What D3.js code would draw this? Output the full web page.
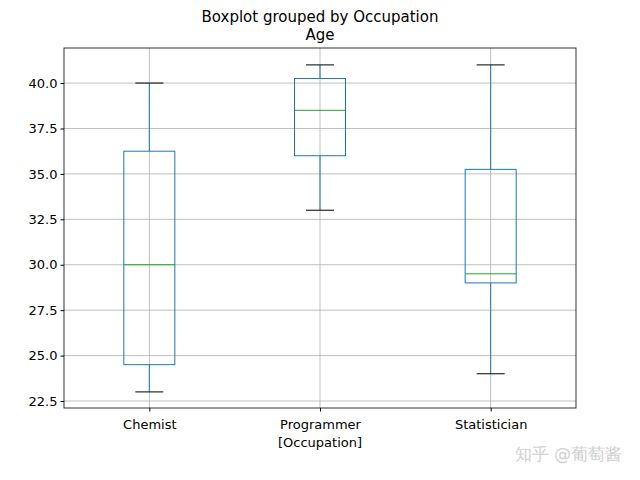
<!DOCTYPE html>
<html><head><meta charset="utf-8">
<script src="https://cdn.jsdelivr.net/npm/d3@7"></script>
<style>body{margin:0;background:#fff}text{font-family:"DejaVu Sans",sans-serif}</style>
</head><body><div id="chart"></div>
<script>
// box stats
const categories = ["Chemist", "Programmer", "Statistician"];
const whiskLow = [23, 33, 24];
const q1 = [24.5, 36, 29];
const median = [30, 38.5, 29.5];
const q3 = [36.25, 40.25, 35.25];
const whiskHigh = [40, 41, 41];
const yTicks = [22.5, 25, 27.5, 30, 32.5, 35, 37.5, 40];

const margin = { top: 48, right: 64, bottom: 72, left: 64 },
  width = 640 - margin.left - margin.right,
  height = 480 - margin.top - margin.bottom;

const svg = d3.select("#chart").append("svg").attr("width", 640).attr("height", 480);
const g = svg.append("g").attr("transform", "translate(" + margin.left + "," + margin.top + ")");

const x = d3.scalePoint().domain(categories).range([0, width]).padding(0.5);
const y = d3.scaleLinear().domain([22.115, 41.93]).range([height, 0]);

// grid
g.selectAll(".hg").data(yTicks).enter().append("line")
  .attr("x1", 0).attr("x2", width).attr("y1", d => y(d)).attr("y2", d => y(d))
  .attr("stroke", "#b0b0b0").attr("stroke-width", 0.8);
g.selectAll(".vg").data(categories).enter().append("line")
  .attr("x1", d => x(d)).attr("x2", d => x(d)).attr("y1", 0).attr("y2", height)
  .attr("stroke", "#b0b0b0").attr("stroke-width", 0.8);

const data = categories.map((c, i) => ({ c, lo: whiskLow[i], q1: q1[i], med: median[i], q3: q3[i], hi: whiskHigh[i] }));
const bw = 51, cw = 28, blue = "#1f77b4";
const b = g.selectAll(".box").data(data).enter().append("g");
b.append("line").attr("x1", d => x(d.c)).attr("x2", d => x(d.c)).attr("y1", d => y(d.lo)).attr("y2", d => y(d.q1)).attr("stroke", blue);
b.append("line").attr("x1", d => x(d.c)).attr("x2", d => x(d.c)).attr("y1", d => y(d.q3)).attr("y2", d => y(d.hi)).attr("stroke", blue);
b.append("line").attr("x1", d => x(d.c) - cw / 2).attr("x2", d => x(d.c) + cw / 2).attr("y1", d => y(d.lo)).attr("y2", d => y(d.lo)).attr("stroke", "#000");
b.append("line").attr("x1", d => x(d.c) - cw / 2).attr("x2", d => x(d.c) + cw / 2).attr("y1", d => y(d.hi)).attr("y2", d => y(d.hi)).attr("stroke", "#000");
b.append("rect").attr("x", d => x(d.c) - bw / 2).attr("width", bw)
  .attr("y", d => y(d.q3)).attr("height", d => y(d.q1) - y(d.q3))
  .attr("fill", "none").attr("stroke", blue);
b.append("line").attr("x1", d => x(d.c) - bw / 2).attr("x2", d => x(d.c) + bw / 2).attr("y1", d => y(d.med)).attr("y2", d => y(d.med)).attr("stroke", "#2ca02c");

// axes
const ya = g.append("g").call(d3.axisLeft(y).tickValues(yTicks).tickFormat(d3.format(".1f")).tickSizeOuter(0).tickSize(3.5));
const xa = g.append("g").attr("transform", "translate(0," + height + ")").call(d3.axisBottom(x).tickSizeOuter(0).tickSize(3.5));
[ya, xa].forEach(a => { a.select(".domain").remove(); a.selectAll("text").attr("font-size", 13).attr("fill", "#000"); a.selectAll("line").attr("stroke", "#000"); });
xa.selectAll("text").attr("dy", "1.1em");
g.append("rect").attr("width", width).attr("height", height).attr("fill", "none").attr("stroke", "#000").attr("stroke-width", 0.8);

svg.append("text").attr("x", 320).attr("y", 22).attr("text-anchor", "middle").attr("font-size", 15).text("Boxplot grouped by Occupation");
svg.append("text").attr("x", margin.left + width / 2).attr("y", 40).attr("text-anchor", "middle").attr("font-size", 15).text("Age");
svg.append("text").attr("x", margin.left + width / 2).attr("y", 447).attr("text-anchor", "middle").attr("font-size", 13).text("[Occupation]");
svg.append("text").attr("x", 622).attr("y", 460).attr("text-anchor", "end").attr("font-size", 17).attr("fill", "#d0d0d0").attr("font-family", "Noto Sans CJK SC").text("知乎 @葡萄酱");
</script></body></html>
